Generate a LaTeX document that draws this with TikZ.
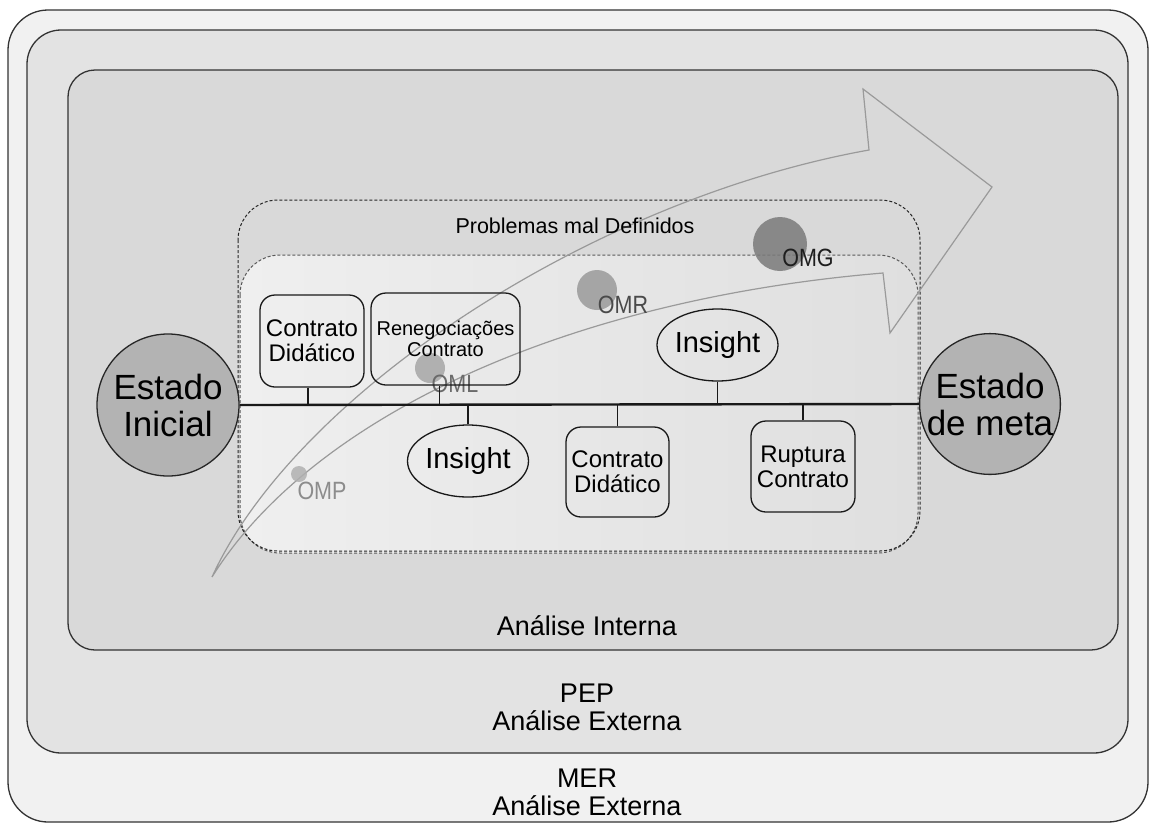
\documentclass[tikz,border=0pt]{standalone}
\usepackage{fontspec}
\setmainfont{Liberation Sans}
\usetikzlibrary{shapes.geometric}
\definecolor{bandA}{HTML}{F1F1F1}
\definecolor{bandB}{HTML}{E3E3E3}
\definecolor{bandC}{HTML}{D9D9D9}
\definecolor{innerL}{HTML}{EFEFEF}
\definecolor{innerR}{HTML}{DFDFDF}
\definecolor{stateFill}{HTML}{B3B3B3}
\definecolor{arrowGray}{HTML}{9A9A9A}
\definecolor{ompFill}{HTML}{B0B0B0}
\definecolor{omlFill}{HTML}{A6A6A6}
\definecolor{omrFill}{HTML}{9A9A9A}
\definecolor{omgFill}{HTML}{7A7A7A}
\definecolor{ompText}{HTML}{8C8C8C}
\definecolor{omlText}{HTML}{6A6A6A}
\definecolor{omrText}{HTML}{4A4A4A}
\definecolor{omgText}{HTML}{1E1E1E}
\begin{document}
\begin{tikzpicture}[x=1pt,y=-1pt,
  band/.style={draw=black!80, line width=1.3pt},
  dashbox/.style={dash pattern=on 3pt off 2pt, line width=1pt, rounded corners=40pt},
  stepbox/.style={draw=black!90, line width=1.3pt, rounded corners=15pt, align=center, inner sep=0pt,
    font=\fontsize{24}{25}\selectfont},
  insightbox/.style={ellipse, draw=black!90, line width=1.3pt, inner sep=0pt,
    minimum width=121pt, minimum height=72pt, font=\fontsize{29}{30}\selectfont},
  statenode/.style={circle, draw=black!85, line width=1.3pt, fill=stateFill, inner sep=0pt,
    minimum size=142pt, align=center, font=\fontsize{35}{37}\selectfont},
  omcircle/.style={circle, inner sep=0pt, opacity=0.85},
  omlabel/.style={inner sep=0pt, font=\fontsize{25}{25}\selectfont},
  link/.style={draw=black!90, line width=1.3pt},
  caption/.style={inner sep=0pt, anchor=base, font=\fontsize{27}{28}\selectfont},
  arrowline/.style={draw=arrowGray, line width=1.2pt, line join=miter}
]
\useasboundingbox[fill=white] (0,0) rectangle (1157,831);

% nested bands
\draw[band, fill=bandA, rounded corners=40pt] (8,10) rectangle (1148,822);
\draw[band, fill=bandB, rounded corners=34pt] (27,30) rectangle (1128,753);
\draw[band, fill=bandC, rounded corners=27pt] (68,70) rectangle (1118,650);

% dashed regions
\shade[left color=innerL, right color=innerR, rounded corners=40pt] (240,255) rectangle (918,553);
\draw[dashbox, draw=black!65] (240,255) rectangle (918,553);
\draw[dashbox, draw=black!85] (238,200) rectangle (920,551);

% big curved arrow
\draw[arrowline] (212,577) .. controls (295,395) and (590,200) .. (869,150)
  -- (863,89) -- (992,187) -- (890,333) -- (883,273)
  .. controls (560,300) and (310,420) .. (212,577) -- cycle;

% OM circles and labels
\node[omcircle, fill=ompFill, minimum size=16pt] (ompc) at (299,474) {};
\node[omcircle, fill=omlFill, minimum size=30pt] (omlc) at (430,368) {};
\node[omcircle, fill=omrFill, minimum size=40pt] (omrc) at (597,290) {};
\node[omcircle, fill=omgFill, minimum size=54pt] (omgc) at (780,244) {};
\node[omlabel, text=ompText] (ompl) at (322,491) {\scalebox{0.86}[1]{OMP}};
\node[omlabel, text=omlText] (omll) at (455,384) {\scalebox{0.86}[1]{OML}};
\node[omlabel, text=omrText] (omrl) at (623,305) {\scalebox{0.86}[1]{OMR}};
\node[omlabel, text=omgText] (omgl) at (808,258) {\scalebox{0.86}[1]{OMG}};

% title of dashed region
\node[inner sep=0pt, font=\fontsize{21.5}{22}\selectfont] (pmd) at (575,226) {Problemas mal Definidos};

% states
\node[statenode] (ei) at (168,405) {Estado\\Inicial};
\node[statenode, minimum size=140pt] (em) at (990,404) {Estado\\de meta};

% steps
\node[stepbox, minimum width=104pt, minimum height=92pt] (cd1) at (312,341) {Contrato\\Didático};
\node[stepbox, minimum width=149pt, minimum height=92pt, font=\fontsize{20}{21}\selectfont] (ren) at (445.5,339) {Renegociações\\Contrato};
\node[insightbox] (ins1) at (468,461) {Insight};
\node[stepbox, minimum width=103pt, minimum height=90pt] (cd2) at (617.5,472) {Contrato\\Didático};
\node[insightbox] (ins2) at (717.5,345) {Insight};
\node[stepbox, minimum width=104pt, minimum height=91pt] (rup) at (803,466.5) {Ruptura\\Contrato};

% timeline and links
\draw[draw=black!90, line width=2.4pt] (ei.east) -- (em.west);
\draw[link] ([xshift=-4pt]cd1.south) -- ([xshift=-4pt]cd1.south |- ei.east);
\draw[link] ([xshift=-6pt]ren.south) -- ([xshift=-6pt]ren.south |- ei.east);
\draw[link] (ins1.north) -- (ins1.north |- ei.east);
\draw[link] (cd2.north) -- (cd2.north |- ei.east);
\draw[link] (ins2.south) -- (ins2.south |- ei.east);
\draw[link] (rup.north) -- (rup.north |- ei.east);

% captions
\node[caption] (ai) at (587,635) {Análise Interna};
\node[caption] (pep1) at (587,702) {PEP};
\node[caption] (pep2) at (587,730) {Análise Externa};
\node[caption] (mer1) at (587,787) {MER};
\node[caption] (mer2) at (587,815) {Análise Externa};
\end{tikzpicture}
\end{document}
